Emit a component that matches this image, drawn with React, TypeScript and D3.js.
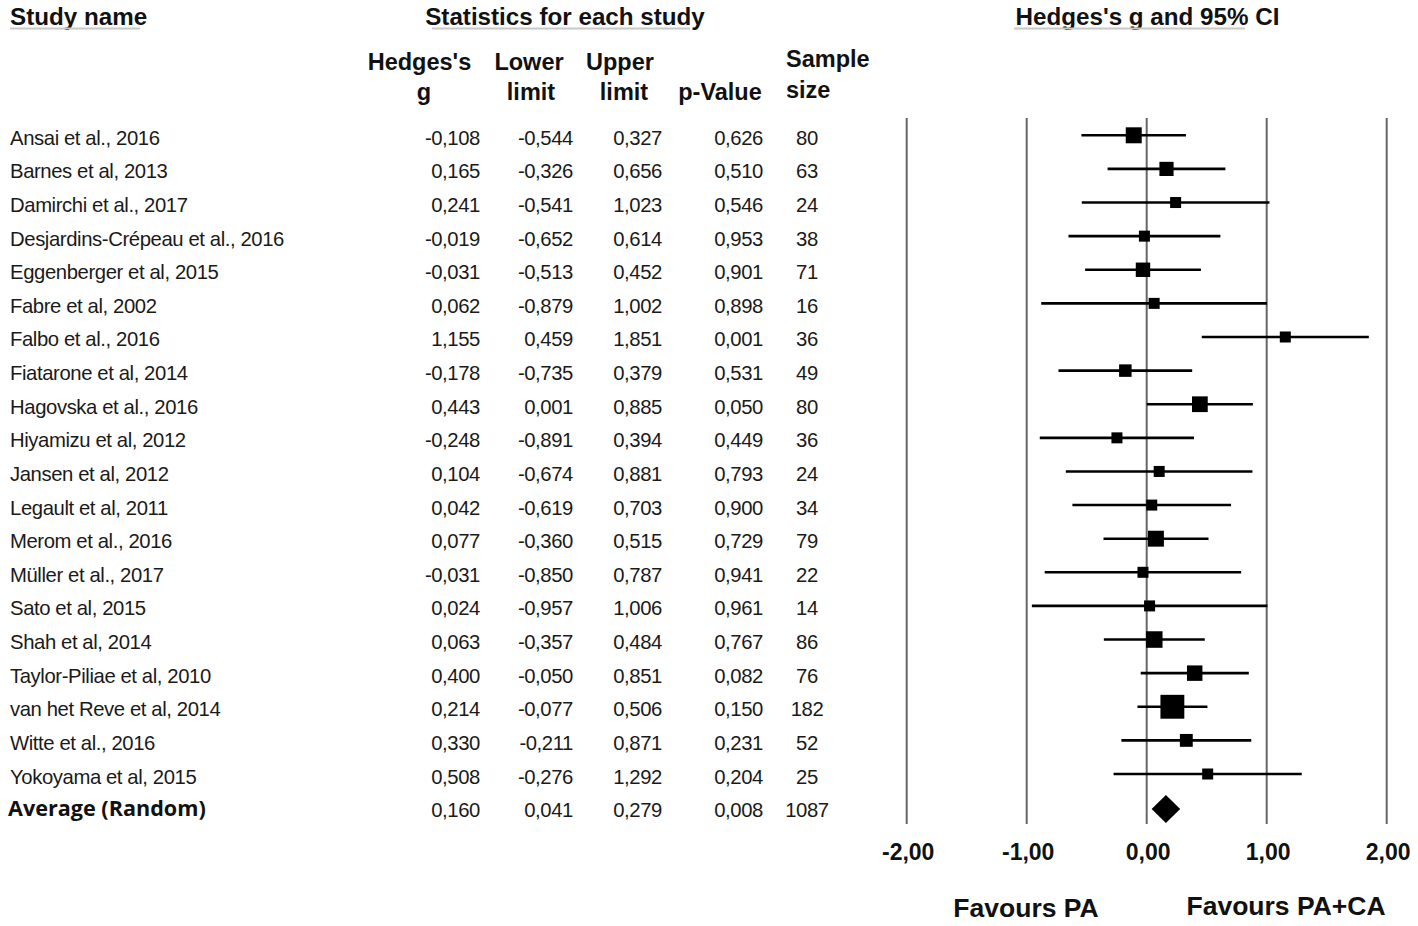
import React from "react";
import * as d3 from "d3";

const studies = [
  "Ansai et al., 2016",
  "Barnes et al, 2013",
  "Damirchi et al., 2017",
  "Desjardins-Crépeau et al., 2016",
  "Eggenberger et al, 2015",
  "Fabre et al, 2002",
  "Falbo et al., 2016",
  "Fiatarone et al, 2014",
  "Hagovska et al., 2016",
  "Hiyamizu et al, 2012",
  "Jansen et al, 2012",
  "Legault et al, 2011",
  "Merom et al., 2016",
  "Müller et al., 2017",
  "Sato et al, 2015",
  "Shah et al, 2014",
  "Taylor-Piliae et al, 2010",
  "van het Reve et al, 2014",
  "Witte et al., 2016",
  "Yokoyama et al, 2015",
];
const hedgesG = [-0.108, 0.165, 0.241, -0.019, -0.031, 0.062, 1.155, -0.178, 0.443, -0.248, 0.104, 0.042, 0.077, -0.031, 0.024, 0.063, 0.4, 0.214, 0.33, 0.508];
const lowerLimit = [-0.544, -0.326, -0.541, -0.652, -0.513, -0.879, 0.459, -0.735, 0.001, -0.891, -0.674, -0.619, -0.36, -0.85, -0.957, -0.357, -0.05, -0.077, -0.211, -0.276];
const upperLimit = [0.327, 0.656, 1.023, 0.614, 0.452, 1.002, 1.851, 0.379, 0.885, 0.394, 0.881, 0.703, 0.515, 0.787, 1.006, 0.484, 0.851, 0.506, 0.871, 1.292];
const pValue = [0.626, 0.51, 0.546, 0.953, 0.901, 0.898, 0.001, 0.531, 0.05, 0.449, 0.793, 0.9, 0.729, 0.941, 0.961, 0.767, 0.082, 0.15, 0.231, 0.204];
const sampleSize = [80, 63, 24, 38, 71, 16, 36, 49, 80, 36, 24, 34, 79, 22, 14, 86, 76, 182, 52, 25];

const summaryLabel = "Average (Random)";
const summary = { g: 0.16, lower: 0.041, upper: 0.279, p: 0.008, n: 1087 };

const tickValues = [-2, -1, 0, 1, 2];
const favoursLeft = "Favours PA";
const favoursRight = "Favours PA+CA";

const fmt3 = (v: number) => d3.format(".3f")(v).replace(".", ",").replace("−", "-");
const fmt2 = (v: number) => d3.format(".2f")(v).replace(".", ",").replace("−", "-");

export default function App() {
  const W = 1418, H = 926;
  const x = d3.scaleLinear().domain([-2, 2]).range([906.7, 1386.7]);
  const y = d3.scaleLinear().domain([0, 19]).range([135.3, 774]);
  const ySum = y(20) + 1.5;

  const textFont = "'Liberation Sans', Arial, sans-serif";
  const bodyStyle: React.CSSProperties = { fontFamily: textFont, fontSize: 20.3, letterSpacing: -0.4, fill: "#1a1a1a" };
  const headStyle: React.CSSProperties = { fontFamily: textFont, fontSize: 23.5, fontWeight: 700, fill: "#111" };
  const titleStyle: React.CSSProperties = { ...headStyle, fontSize: 24.2 };

  const side = (i: number) => {
    const se = (upperLimit[i] - lowerLimit[i]) / (2 * 1.96);
    return Math.max(11, 3.55 / se);
  };

  const lineTop = 118, lineBottom = 824;

  return (
    <svg width={W} height={H} style={{ position: "absolute", left: 0, top: 0, background: "#fff" }}>
      <rect x={0} y={0} width={W} height={H} fill="#fff" />
      {/* Headers */}
      <text x={10} y={16} dominantBaseline="central" style={titleStyle}>Study name</text>
      <line x1={10} x2={140} y1={28.5} y2={28.5} stroke="#c8c8c8" strokeWidth={2} />
      <text x={565} y={16} textAnchor="middle" dominantBaseline="central" style={titleStyle}>Statistics for each study</text>
      <line x1={432} x2={690} y1={28.5} y2={28.5} stroke="#c8c8c8" strokeWidth={2} />
      <text x={1147.5} y={16} textAnchor="middle" dominantBaseline="central" style={titleStyle}>Hedges's g and 95% CI</text>
      <line x1={1014} x2={1245} y1={28.5} y2={28.5} stroke="#c8c8c8" strokeWidth={2} />

      <text x={419.5} y={62} textAnchor="middle" dominantBaseline="central" style={headStyle}>Hedges's</text>
      <text x={424} y={92} textAnchor="middle" dominantBaseline="central" style={headStyle}>g</text>
      <text x={529} y={62} textAnchor="middle" dominantBaseline="central" style={headStyle}>Lower</text>
      <text x={531} y={92} textAnchor="middle" dominantBaseline="central" style={headStyle}>limit</text>
      <text x={620} y={62} textAnchor="middle" dominantBaseline="central" style={headStyle}>Upper</text>
      <text x={624} y={92} textAnchor="middle" dominantBaseline="central" style={headStyle}>limit</text>
      <text x={720} y={92} textAnchor="middle" dominantBaseline="central" style={headStyle}>p-Value</text>
      <text x={786} y={59} dominantBaseline="central" style={headStyle}>Sample</text>
      <text x={786} y={90} dominantBaseline="central" style={headStyle}>size</text>

      {/* Table rows */}
      {studies.map((s, i) => {
        const ty = y(i) + 2.5;
        return (
          <g key={s}>
            <text x={10} y={ty} dominantBaseline="central" style={bodyStyle}>{s}</text>
            <text x={480} y={ty} textAnchor="end" dominantBaseline="central" style={bodyStyle}>{fmt3(hedgesG[i])}</text>
            <text x={573} y={ty} textAnchor="end" dominantBaseline="central" style={bodyStyle}>{fmt3(lowerLimit[i])}</text>
            <text x={662} y={ty} textAnchor="end" dominantBaseline="central" style={bodyStyle}>{fmt3(upperLimit[i])}</text>
            <text x={763} y={ty} textAnchor="end" dominantBaseline="central" style={bodyStyle}>{fmt3(pValue[i])}</text>
            <text x={807} y={ty} textAnchor="middle" dominantBaseline="central" style={bodyStyle}>{sampleSize[i]}</text>
          </g>
        );
      })}
      <text x={8} y={ySum - 2} dominantBaseline="central" style={{ fontFamily: "'Open Sans', sans-serif", fontSize: 21.6, fontWeight: 700, fill: "#111" }}>{summaryLabel}</text>
      <text x={480} y={ySum + 1} textAnchor="end" dominantBaseline="central" style={bodyStyle}>{fmt3(summary.g)}</text>
      <text x={573} y={ySum + 1} textAnchor="end" dominantBaseline="central" style={bodyStyle}>{fmt3(summary.lower)}</text>
      <text x={662} y={ySum + 1} textAnchor="end" dominantBaseline="central" style={bodyStyle}>{fmt3(summary.upper)}</text>
      <text x={763} y={ySum + 1} textAnchor="end" dominantBaseline="central" style={bodyStyle}>{fmt3(summary.p)}</text>
      <text x={807} y={ySum + 1} textAnchor="middle" dominantBaseline="central" style={bodyStyle}>{summary.n}</text>

      {/* Gridlines */}
      {tickValues.map((t) => (
        <line key={t} x1={x(t)} x2={x(t)} y1={lineTop} y2={lineBottom} stroke="#666" strokeWidth={2} />
      ))}
      {tickValues.map((t) => (
        <text key={"l" + t} x={x(t) + 1.5} y={852} textAnchor="middle" dominantBaseline="central" style={{ ...headStyle, fontSize: 23 }}>{fmt2(t)}</text>
      ))}

      {/* CI lines and squares */}
      {studies.map((s, i) => {
        const cy = y(i);
        const sz = side(i);
        return (
          <g key={"m" + s}>
            <line x1={x(lowerLimit[i])} x2={x(upperLimit[i])} y1={cy} y2={cy} stroke="#000" strokeWidth={2.6} />
            <rect x={x(hedgesG[i]) - sz / 2} y={cy - sz / 2} width={sz} height={sz} fill="#000" />
          </g>
        );
      })}
      {/* Summary diamond */}
      <path
        d={`M${x(summary.lower)},${ySum} L${x(summary.g)},${ySum - 14} L${x(summary.upper)},${ySum} L${x(summary.g)},${ySum + 14} Z`}
        fill="#000"
      />

      <text x={1026} y={908} textAnchor="middle" dominantBaseline="central" style={{ ...headStyle, fontSize: 26.5 }}>{favoursLeft}</text>
      <text x={1286} y={906} textAnchor="middle" dominantBaseline="central" style={{ ...headStyle, fontSize: 26.5 }}>{favoursRight}</text>
    </svg>
  );
}
